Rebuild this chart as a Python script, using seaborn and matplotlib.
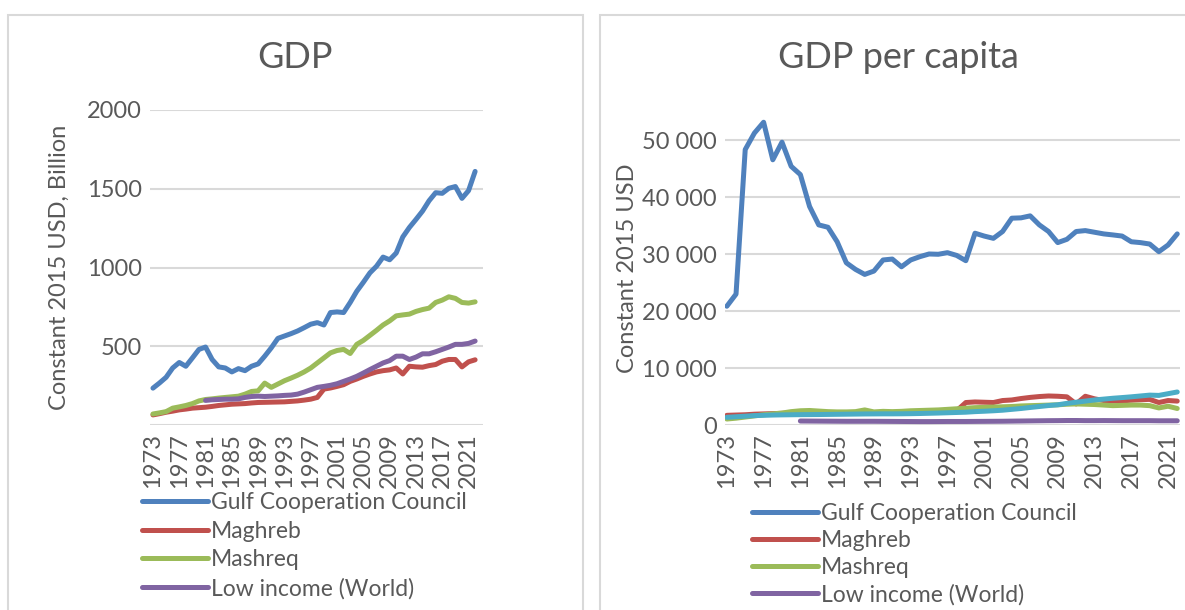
import matplotlib
matplotlib.use("Agg")
import matplotlib.pyplot as plt
import matplotlib.patches as patches
from matplotlib.ticker import FuncFormatter
import seaborn as sns

sns.set_style("white")
plt.rcParams['font.family'] = ['Lato', 'DejaVu Sans']

# years on the category axis
years = list(range(1973, 2023))
low_years = list(range(1981, 2023))
year_ticks = list(range(1973, 2022, 4))

# GDP, constant 2015 USD, billion
gdp_gcc = [234, 267, 303, 362, 397, 373, 426, 480, 495, 416, 369, 362, 337, 358, 345,
           373, 388, 437, 490, 550, 565, 580, 597, 618, 640, 650, 635, 714, 718, 714,
           778, 849, 906, 966, 1008, 1066, 1049, 1092, 1194, 1254, 1305, 1358, 1424,
           1475, 1471, 1503, 1514, 1439, 1488, 1610]
gdp_maghreb = [64, 72, 81, 88, 96, 101, 107, 110, 113, 118, 124, 128, 132, 134, 136,
               140, 143, 144, 145, 146, 147, 150, 153, 158, 164, 175, 228, 235, 245, 256,
               277, 292, 309, 324, 337, 345, 350, 362, 324, 373, 369, 367, 377, 384, 405,
               416, 416, 369, 401, 414]
gdp_mashreq = [70, 77, 85, 107, 115, 124, 136, 153, 162, 166, 171, 175, 179, 183, 196,
               213, 217, 266, 239, 260, 281, 298, 316, 337, 362, 394, 426, 458, 473, 480,
               454, 512, 537, 569, 601, 635, 661, 693, 699, 704, 721, 733, 742, 778, 793,
               814, 804, 778, 774, 782]
gdp_low = [156, 160, 162, 164, 164, 166, 175, 181, 183, 181, 183, 185, 188, 190, 196,
           209, 224, 239, 245, 252, 262, 277, 292, 309, 330, 352, 373, 394, 409, 437,
           437, 416, 431, 452, 452, 465, 480, 495, 512, 512, 518, 533]

# GDP per capita, constant 2015 USD
pc_gcc = [20870, 23000, 48400, 51300, 53200, 46600, 49700, 45450, 44000, 38400, 35160,
          34750, 32200, 28500, 27340, 26460, 27050, 29000, 29160, 27800, 29000, 29580,
          30050, 30000, 30280, 29800, 28870, 33700, 33200, 32800, 34000, 36340, 36400,
          36750, 35160, 34000, 32050, 32630, 34000, 34160, 33870, 33580, 33400, 33200,
          32200, 32050, 31800, 30460, 31630, 33580]
pc_maghreb = [1700, 1750, 1800, 1900, 1950, 2000, 2050, 2100, 2100, 2100, 2100, 2100,
              2100, 2100, 2100, 2150, 2150, 2200, 2200, 2200, 2250, 2250, 2300, 2350,
              2400, 2500, 3950, 4050, 4000, 3950, 4300, 4400, 4650, 4850, 5000, 5100,
              5050, 4950, 3700, 5050, 4600, 4300, 4200, 4250, 4350, 4450, 4500, 3950,
              4300, 4200]
pc_mashreq = [1050, 1200, 1400, 1600, 1800, 1950, 2100, 2350, 2500, 2550, 2450, 2350,
              2300, 2300, 2350, 2650, 2300, 2400, 2350, 2400, 2500, 2550, 2600, 2650,
              2750, 2850, 2950, 3050, 3100, 3150, 3200, 3250, 3350, 3400, 3450, 3500,
              3550, 3650, 3700, 3650, 3600, 3500, 3400, 3450, 3500, 3500, 3400, 3000,
              3300, 2900]
pc_low = [700, 690, 680, 670, 660, 650, 650, 650, 650, 640, 630, 620, 610, 600, 600,
          610, 620, 620, 620, 630, 640, 650, 660, 680, 700, 720, 740, 760, 770, 790,
          790, 770, 770, 780, 770, 760, 760, 760, 760, 740, 740, 740]
pc_other = [1350, 1450, 1550, 1650, 1700, 1750, 1780, 1800, 1820, 1830, 1840, 1860,
            1880, 1900, 1920, 1940, 1950, 1960, 1960, 1970, 1990, 2020, 2060, 2100,
            2150, 2200, 2250, 2350, 2420, 2500, 2600, 2750, 2900, 3080, 3250, 3420,
            3550, 3800, 4000, 4200, 4400, 4550, 4700, 4820, 4950, 5100, 5250, 5200,
            5500, 5800]

names = ['Gulf Cooperation Council', 'Maghreb', 'Mashreq', 'Low income (World)']
colors = ['#4F81BD', '#C0504D', '#9BBB59', '#8064A2']
cyan = '#4BACC6'
txt = '#595959'
grid = '#D9D9D9'
lw = 3.6
fs = 17

fig = plt.figure(figsize=(11.85, 6.1), dpi=100)

# panel frames
fig.patches.append(patches.Rectangle((8 / 1185, -0.05), 575 / 1185, 1.05 - 15 / 610,
                                     transform=fig.transFigure, fill=False,
                                     edgecolor=grid, lw=1.5))
fig.patches.append(patches.Rectangle((600 / 1185, -0.05), 600 / 1185, 1.05 - 15 / 610,
                                     transform=fig.transFigure, fill=False,
                                     edgecolor=grid, lw=1.5))

ax1 = fig.add_axes([150 / 1185, 1 - 425 / 610, 333 / 1185, 315 / 610])
ax2 = fig.add_axes([725 / 1185, 1 - 425 / 610, 455 / 1185, 313 / 610])

left_series = [(years, gdp_gcc), (years, gdp_maghreb), (years, gdp_mashreq), (low_years, gdp_low)]
right_series = [(years, pc_gcc), (years, pc_maghreb), (years, pc_mashreq), (low_years, pc_low)]

for ax, series in [(ax1, left_series), (ax2, right_series)]:
    for (x, y), name, c in zip(series, names, colors):
        sns.lineplot(x=x, y=y, ax=ax, color=c, linewidth=lw, label=name,
                     solid_capstyle='round', solid_joinstyle='round')
    ax.set_xticks(year_ticks)
    ax.set_xticklabels([str(t) for t in year_ticks], rotation=90)
    ax.grid(axis='y', color=grid, lw=1.5)
    ax.set_axisbelow(True)
    for s in ax.spines.values():
        s.set_visible(False)
    ax.tick_params(length=0, colors=txt, labelsize=fs, pad=6)
    ax.set_xlabel('')

# extra series on the per-capita panel (legend entry cut off in the source)
sns.lineplot(x=years, y=pc_other, ax=ax2, color=cyan, linewidth=lw,
             solid_capstyle='round', solid_joinstyle='round')

ax1.set_xlim(1972.55, 2023.2)
ax1.set_ylim(0, 2000)
ax1.set_yticks([0, 500, 1000, 1500, 2000])
ax1.set_yticklabels(['', '500', '1000', '1500', '2000'])
ax1.set_ylabel('Constant 2015 USD, Billion', color=txt, fontsize=fs, labelpad=12)

ax2.set_xlim(1972.8, 2022.3)
ax2.set_ylim(0, 55000)
ax2.set_yticks([0, 10000, 20000, 30000, 40000, 50000])
ax2.yaxis.set_major_formatter(FuncFormatter(lambda v, p: f'{int(v):,}'.replace(',', ' ')))
ax2.set_ylabel('Constant 2015 USD', color=txt, fontsize=fs, labelpad=3)

fig.text(295 / 1185, 1 - 57 / 610, 'GDP', ha='center', va='center', fontsize=26, color=txt)
fig.text(898 / 1185, 1 - 57 / 610, 'GDP per capita', ha='center', va='center', fontsize=26, color=txt)

for ax, x0, y0, sp in [(ax1, 142, 492, 0.33), (ax2, 752, 503, 0.26)]:
    h, l = ax.get_legend_handles_labels()
    ax.legend(h[:4], l[:4], loc='upper left', bbox_to_anchor=(x0 / 1185, 1 - y0 / 610),
              bbox_transform=fig.transFigure, frameon=False, fontsize=16.5,
              labelcolor=txt, handlelength=2.9, handletextpad=0.1,
              labelspacing=sp, borderpad=0, borderaxespad=0)

fig.savefig('out.png', dpi=100)
